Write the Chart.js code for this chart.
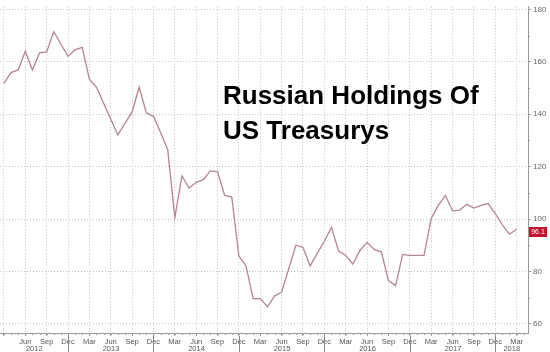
<!DOCTYPE html>
<html><head><meta charset="utf-8">
<script src="https://cdn.jsdelivr.net/npm/chart.js@4/dist/chart.umd.min.js"></script>
<style>html,body{margin:0;padding:0;background:#fff}#wrap{width:550px;height:352px}</style>
</head><body><div id="wrap"><canvas id="c" width="550" height="352"></canvas></div>
<script>
// ---- data (billions USD), monthly ----
const months = [
 '2012-03','2012-04','2012-05','2012-06','2012-07','2012-08','2012-09','2012-10','2012-11','2012-12',
 '2013-01','2013-02','2013-03','2013-04','2013-05','2013-06','2013-07','2013-08','2013-09','2013-10','2013-11','2013-12',
 '2014-01','2014-02','2014-03','2014-04','2014-05','2014-06','2014-07','2014-08','2014-09','2014-10','2014-11','2014-12',
 '2015-01','2015-02','2015-03','2015-04','2015-05','2015-06','2015-07','2015-08','2015-09','2015-10','2015-11','2015-12',
 '2016-01','2016-02','2016-03','2016-04','2016-05','2016-06','2016-07','2016-08','2016-09','2016-10','2016-11','2016-12',
 '2017-01','2017-02','2017-03','2017-04','2017-05','2017-06','2017-07','2017-08','2017-09','2017-10','2017-11','2017-12',
 '2018-01','2018-02','2018-03'];
const holdings = [
 151.8,155.9,156.9,164.0,156.9,163.4,163.8,171.5,166.8,162.1,
 164.6,165.5,153.4,150.3,144.2,138.2,132.1,136.5,140.9,150.3,140.5,139.2,
 133.0,126.5,100.5,116.5,111.8,114.0,115.0,118.4,118.1,109.0,108.4,85.9,
 82.1,69.6,69.6,66.5,70.6,72.1,81.0,90.0,89.2,82.1,86.9,91.5,
 96.8,87.8,86.1,82.8,88.0,91.1,88.4,87.5,76.5,74.6,86.5,86.1,
 86.1,86.1,100.2,105.2,109.0,103.1,103.4,105.6,104.2,105.2,105.9,102.1,
 97.8,94.2,96.1];
const yTicks = [60, 80, 100, 120, 140, 160, 180];
const monthAbbr = ['Jan','Feb','Mar','Apr','May','Jun','Jul','Aug','Sep','Oct','Nov','Dec'];
const years = ['2012','2013','2014','2015','2016','2017','2018'];
const titleLines = ['Russian Holdings Of', 'US Treasurys'];
const lastLabel = '96.1';

const BASE_YEAR = 2012;
function idx(s){ const [y,m] = s.split('-').map(Number); return (y-BASE_YEAR)*12 + (m-1); }
const points = months.map((m,i)=>({x: idx(m), y: holdings[i]}));
const X_MIN = 1.45, X_MAX = 75.6;
const quarterTicks = [];
for (let v = 2; v <= 74; v += 3) quarterTicks.push(v);
const FIRST_LABELLED = 5;

const extras = {
  id: 'extras',
  afterDraw(chart){
    const ctx = chart.ctx, ca = chart.chartArea;
    const xs = chart.scales.x, ys = chart.scales.y;
    ctx.save();
    // minor month ticks on x axis
    ctx.strokeStyle = '#999'; ctx.lineWidth = 1;
    for (let v = Math.ceil(X_MIN); v <= X_MAX; v++){
      const px = Math.round(xs.getPixelForValue(v)) + 0.5;
      ctx.beginPath(); ctx.moveTo(px, ca.bottom); ctx.lineTo(px, ca.bottom + 2); ctx.stroke();
    }
    // minor y ticks
    for (let v = 70; v <= 170; v += 20){
      const py = Math.round(ys.getPixelForValue(v)) + 0.5;
      ctx.beginPath(); ctx.moveTo(ca.right, py); ctx.lineTo(ca.right + 2, py); ctx.stroke();
    }
    // year dividers and labels
    const divs = [];
    years.forEach((y,i)=>{ const v = i*12 - 1; if (v > X_MIN && v < X_MAX) divs.push(v); });
    ctx.strokeStyle = '#888';
    const divPx = divs.map(v => Math.round(xs.getPixelForValue(v)) + 0.5);
    divPx.forEach(px => { ctx.beginPath(); ctx.moveTo(px, ca.bottom + 3); ctx.lineTo(px, 352); ctx.stroke(); });
    const bounds = [ca.left, ...divPx, ca.right];
    ctx.fillStyle = '#555'; ctx.font = '7.5px "Liberation Sans", Arial, sans-serif';
    ctx.textAlign = 'center'; ctx.textBaseline = 'middle';
    years.forEach((y,i)=>{ if (i+1 < bounds.length) ctx.fillText(y, (bounds[i]+bounds[i+1])/2, 348.5); });
    // title
    ctx.fillStyle = '#000'; ctx.textAlign = 'left'; ctx.textBaseline = 'alphabetic';
    ctx.font = 'bold 26px "Liberation Sans", Arial, sans-serif';
    ctx.fillText(titleLines[0], 223, 104);
    ctx.fillText(titleLines[1], 223, 139);
    // last value tag
    const ly = ys.getPixelForValue(holdings[holdings.length-1]) + 3;
    ctx.fillStyle = '#c4122f';
    ctx.fillRect(529, Math.round(ly) - 5, 18, 10);
    ctx.fillStyle = '#fff'; ctx.font = '7px "Liberation Sans", Arial, sans-serif';
    ctx.textAlign = 'center'; ctx.textBaseline = 'middle';
    ctx.fillText(lastLabel, 538, Math.round(ly));
    ctx.restore();
  }
};

new Chart(document.getElementById('c').getContext('2d'), {
  type: 'line',
  data: { datasets: [{ data: points, borderColor: '#b3858d', borderWidth: 1.3, pointRadius: 0, tension: 0, fill: false }] },
  options: {
    responsive: false, animation: false, devicePixelRatio: 1,
    layout: { padding: 0 },
    plugins: { legend: { display: false }, tooltip: { enabled: false }, title: { display: false } },
    scales: {
      x: {
        type: 'linear', position: 'bottom', min: X_MIN, max: X_MAX,
        afterBuildTicks(s){ s.ticks = quarterTicks.map(v => ({value: v})); },
        afterFit(s){ s.height = 19; },
        grid: { color: '#c4c4c4', lineWidth: 1, drawTicks: true, tickLength: 3, tickColor: '#999', tickBorderDash: [] },
        border: { display: true, color: '#999', width: 1, dash: [1, 2] },
        ticks: { autoSkip: false, maxRotation: 0, padding: 1, color: '#555',
                 font: { size: 7.5, family: '"Liberation Sans", Arial, sans-serif' },
                 callback: v => v < FIRST_LABELLED ? '' : monthAbbr[((v % 12) + 12) % 12] }
      },
      y: {
        type: 'linear', position: 'right', min: 56.5, max: 181,
        afterBuildTicks(s){ s.ticks = yTicks.map(v => ({value: v})); },
        afterFit(s){ s.width = 22; },
        grid: { color: '#c4c4c4', lineWidth: 1, drawTicks: true, tickLength: 3, tickColor: '#999', tickBorderDash: [] },
        border: { display: true, color: '#999', width: 1, dash: [1, 2] },
        ticks: { padding: 2, color: '#666', font: { size: 8, family: '"Liberation Sans", Arial, sans-serif' } }
      }
    }
  },
  plugins: [extras]
});
</script>
</body></html>
